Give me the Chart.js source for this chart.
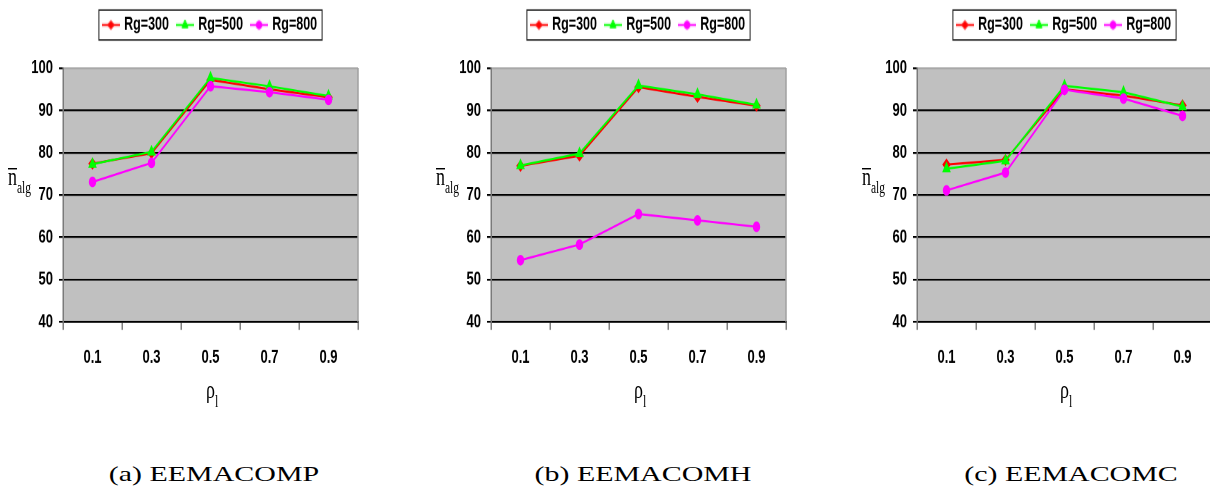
<!DOCTYPE html>
<html>
<head>
<meta charset="utf-8">
<script src="https://cdn.jsdelivr.net/npm/chart.js@4.4.1/dist/chart.umd.min.js"></script>
<style>
  html, body { margin: 0; padding: 0; background: #fff; }
  body { width: 1210px; height: 495px; overflow: hidden; position: relative; }
  /* the figure is drawn at natural size and stretched vertically */
  #fig { position: absolute; left: 0; top: 0; width: 1210px; height: 290px;
         transform: scaleY(1.44828); transform-origin: 0 0; }
  .panel { position: absolute; top: 0; width: 404px; height: 290px; }
  .panel canvas { position: absolute; left: 0; top: 0; }
  .serif { position: absolute; font-family: 'Liberation Serif', 'Times New Roman', serif;
           color: #000; white-space: nowrap; line-height: 1; }
  .bar { position: absolute; height: 0; border-top: 1px solid #000; }
  .cap { position: absolute; top: 463px; font-family: 'Liberation Serif', 'Times New Roman', serif;
         font-size: 22px; line-height: 22px; white-space: nowrap; color: #000;
         transform: translateX(-50%) scaleX(1.36); }
</style>
</head>
<body>
<div id="fig"></div>
<script>
// x categories (rho_l) and series names
const categories = ['0.1', '0.3', '0.5', '0.7', '0.9'];
const seriesLabels = ['Rg=300', 'Rg=500', 'Rg=800'];

// y axis range
const yMin = 40;
const yMax = 100;
const yStep = 10;

// EEMACOMP
const eemacompRg300 = [77.4, 79.9, 97.2, 95.0, 93.1];
const eemacompRg500 = [77.3, 80.2, 97.7, 95.7, 93.4];
const eemacompRg800 = [73.1, 77.6, 95.7, 94.3, 92.5];

// EEMACOMH
const eemacomhRg300 = [76.9, 79.3, 95.5, 93.2, 91.1];
const eemacomhRg500 = [77.0, 79.8, 95.9, 93.8, 91.3];
const eemacomhRg800 = [54.6, 58.3, 65.5, 64.0, 62.5];

// EEMACOMC
const eemacomcRg300 = [77.2, 78.3, 95.0, 93.5, 91.2];
const eemacomcRg500 = [76.2, 78.1, 95.8, 94.3, 90.9];
const eemacomcRg800 = [71.1, 75.3, 94.9, 92.8, 88.7];

const captions = ['(a) EEMACOMP', '(b) EEMACOMH', '(c) EEMACOMC'];

// ---- styling ----
const seriesStyle = [
  { color: '#ff0000', point: 'rectRot', radius: 3.5 },
  { color: '#00ff00', point: 'triangle', radius: 4 },
  { color: '#ff00ff', point: 'circle', radius: 3.2 }
];

const panels = [
  { left: 0,   plotLeft: 63,  capX: 214,  series: [eemacompRg300, eemacompRg500, eemacompRg800] },
  { left: 428, plotLeft: 491, capX: 643,  series: [eemacomhRg300, eemacomhRg500, eemacomhRg800] },
  { left: 854, plotLeft: 917, capX: 1071, series: [eemacomcRg300, eemacomcRg500, eemacomcRg800] }
];

const SANS = "'Liberation Sans', Arial, sans-serif";
const tickFont = { family: SANS, size: 13, weight: 'bold' };

// small legend swatch: a short line with the series marker in the middle
function legendSwatch(style) {
  const c = document.createElement('canvas');
  c.width = 18; c.height = 9;
  const g = c.getContext('2d');
  g.strokeStyle = style.color;
  g.fillStyle = style.color;
  g.lineWidth = 1.5;
  g.beginPath(); g.moveTo(0, 4.5); g.lineTo(18, 4.5); g.stroke();
  g.lineWidth = 1;
  Chart.helpers.drawPoint(g, { pointStyle: style.point, radius: style.radius - 0.5, rotation: 0, borderWidth: 1 }, 9, 4.5);
  return c;
}
const swatches = seriesStyle.map(legendSwatch);

// grey plot area, its right edge and a frame round the legend
const plotFrame = {
  id: 'plotFrame',
  beforeDraw(chart) {
    const { ctx, chartArea: a } = chart;
    ctx.save();
    ctx.fillStyle = '#c0c0c0';
    ctx.fillRect(a.left, a.top, a.right - a.left, a.bottom - a.top);
    ctx.restore();
  },
  beforeDatasetsDraw(chart) {
    const { ctx, chartArea: a } = chart;
    ctx.save();
    ctx.strokeStyle = '#a0a0a0';
    ctx.lineWidth = 1.5;
    ctx.beginPath(); ctx.moveTo(a.right, a.top); ctx.lineTo(a.right, a.bottom); ctx.stroke();
    ctx.restore();
  },
  afterDraw(chart) {
    const hb = chart.legend && chart.legend.legendHitBoxes;
    if (!hb || !hb.length) return;
    const { ctx } = chart;
    const last = hb[hb.length - 1];
    const l = hb[0].left - 5;
    const r = last.left + last.width + 5;
    const cy = hb[0].top + hb[0].height / 2;
    ctx.save();
    ctx.strokeStyle = '#222';
    ctx.lineWidth = 1;
    ctx.strokeRect(l, cy - 10.35, r - l, 20.7);
    ctx.restore();
  }
};

const fig = document.getElementById('fig');

function addText(cls, text, css) {
  const el = document.createElement('div');
  el.className = cls;
  if (text) el.textContent = text;
  Object.assign(el.style, css);
  fig.appendChild(el);
  return el;
}

panels.forEach((p, pi) => {
  const holder = document.createElement('div');
  holder.className = 'panel';
  holder.style.left = p.left + 'px';
  const canvas = document.createElement('canvas');
  canvas.width = 404; canvas.height = 290;
  canvas.style.width = '404px'; canvas.style.height = '290px';
  holder.appendChild(canvas);
  fig.appendChild(holder);

  const datasets = p.series.map((vals, i) => ({
    label: seriesLabels[i],
    data: vals,
    borderColor: seriesStyle[i].color,
    backgroundColor: seriesStyle[i].color,
    borderWidth: 1.5,
    pointStyle: seriesStyle[i].point,
    pointRadius: seriesStyle[i].radius,
    pointBorderWidth: 1,
    pointBackgroundColor: seriesStyle[i].color,
    pointBorderColor: seriesStyle[i].color,
    tension: 0,
    fill: false,
    order: 3 - i
  }));

  new Chart(canvas, {
    type: 'line',
    data: { labels: categories, datasets },
    plugins: [plotFrame],
    options: {
      responsive: false,
      animation: false,
      devicePixelRatio: 2,
      events: [],
      layout: { padding: { top: 2, right: 46, left: 0, bottom: 0 } },
      plugins: {
        tooltip: { enabled: false },
        title: { display: true, text: '', weight: 500, padding: 0, font: { size: 13.5, lineHeight: 1 } },
        legend: {
          position: 'top',
          fullSize: false,
          align: 'center',
          labels: {
            usePointStyle: true,
            pointStyleWidth: 14,
            padding: 9,
            color: '#000',
            font: { family: SANS, size: 12.5, weight: 'bold' },
            generateLabels(chart) {
              return chart.data.datasets.map((ds, i) => ({
                text: ds.label,
                fillStyle: ds.borderColor,
                strokeStyle: ds.borderColor,
                fontColor: '#000',
                lineWidth: 0,
                pointStyle: swatches[i],
                hidden: false,
                datasetIndex: i
              }));
            }
          }
        }
      },
      scales: {
        x: {
          type: 'category',
          offset: true,
          grid: { display: true, offset: true, drawOnChartArea: false, drawTicks: true,
                  tickLength: 5.5, color: '#808080', lineWidth: 1.5 },
          border: { display: true, color: '#000', width: 1.3 },
          ticks: { padding: 11.5, color: '#000', font: tickFont, maxRotation: 0, autoSkip: false },
          afterFit(scale) { scale.height = 67.7; }
        },
        y: {
          min: yMin,
          max: yMax,
          ticks: { stepSize: yStep, padding: 6, color: '#000', font: tickFont },
          grid: {
            color: (c) => (c.tick && c.tick.value === yMax ? '#a8a8a8' : '#000'),
            tickColor: '#000',
            lineWidth: 1.3,
            tickLength: 4,
            drawTicks: true
          },
          border: { display: true, color: '#7a7a7a', width: 1.5 },
          afterFit(scale) { scale.width = 63; }
        }
      }
    }
  });

  // y axis title: n with overbar, subscript "alg"
  const yl = p.plotLeft - 55;
  addText('bar', '', { left: yl + 'px', top: '115.9px', width: '9px' });
  addText('serif', 'n', { left: yl + 'px', top: '112.6px', fontSize: '18px' });
  addText('serif', 'alg', { left: (yl + 9) + 'px', top: '123.5px', fontSize: '11.5px' });

  // x axis title: rho with subscript "l"
  addText('serif', 'ρ', { left: (p.plotLeft + 143) + 'px', top: '260.4px', fontSize: '18px' });
  addText('serif', 'l', { left: (p.plotLeft + 152) + 'px', top: '271px', fontSize: '12px' });

  // caption under the panel
  const cap = document.createElement('div');
  cap.className = 'cap';
  cap.textContent = captions[pi];
  cap.style.left = p.capX + 'px';
  document.body.appendChild(cap);
});
</script>
</body>
</html>
